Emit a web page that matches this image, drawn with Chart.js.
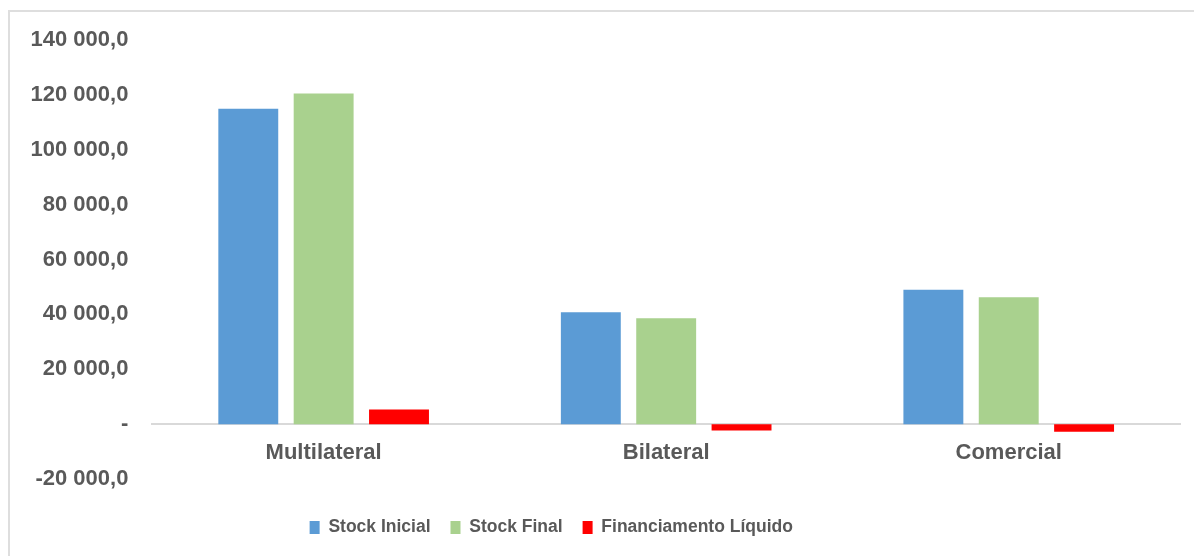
<!DOCTYPE html>
<html>
<head>
<meta charset="utf-8">
<script src="https://cdn.jsdelivr.net/npm/chart.js@4.4.1/dist/chart.umd.min.js"></script>
<style>
  html, body { margin: 0; padding: 0; background: #fff; }
  #wrap { position: relative; width: 1194px; height: 556px; overflow: hidden; }
  #frame { position: absolute; left: 8px; top: 10px; width: 1200px; height: 600px; border: 2px solid #dedede; box-sizing: border-box; }
  canvas { position: absolute; left: 0; top: 0; }
</style>
</head>
<body>
<div id="wrap">
  <div id="frame"></div>
  <canvas id="chart" width="1194" height="556"></canvas>
</div>
<script>
const categories = ['Multilateral', 'Bilateral', 'Comercial'];
const stockInicial = [114900, 40800, 49000];
const stockFinal = [120500, 38600, 46200];
const financiamentoLiquido = [5300, -2300, -2800];
const seriesNames = ['Stock Inicial', 'Stock Final', 'Financiamento Líquido'];
const seriesColors = ['#5B9BD5', '#A9D18E', '#FF0000'];

const FONT = '"Liberation Sans", Arial, sans-serif';
const TEXT = '#595959';

// formato "140 000,0", zero aparece como "-"
function fmt(v) {
  if (v === 0) return '-';
  const s = Math.abs(v).toString().replace(/\B(?=(\d{3})+(?!\d))/g, ' ');
  return (v < 0 ? '-' : '') + s + ',0';
}

// desloca a legenda para a esquerda, como no original
const shiftLegend = {
  id: 'shiftLegend',
  afterLayout(chart) {
    if (chart.legend) {
      chart.legend.left -= 42;
      chart.legend.right -= 42;
    }
  }
};

const ctx = document.getElementById('chart').getContext('2d');
new Chart(ctx, {
  type: 'bar',
  data: {
    labels: categories,
    datasets: [stockInicial, stockFinal, financiamentoLiquido].map((d, i) => ({
      label: seriesNames[i],
      data: d,
      backgroundColor: seriesColors[i],
      borderWidth: 0,
      barPercentage: 0.795,
      categoryPercentage: 0.66
    }))
  },
  options: {
    responsive: false,
    animation: false,
    layout: { padding: { left: 6.5, right: 14, top: 40, bottom: 9.75 } },
    scales: {
      x: {
        position: { y: 0 },
        grid: { display: false, drawTicks: false },
        border: { display: true, color: '#d9d9d9', width: 2 },
        ticks: { color: TEXT, padding: 16, font: { family: FONT, size: 22, weight: 'bold' } }
      },
      y: {
        min: -20000,
        max: 140000,
        grid: { display: false, drawTicks: false },
        border: { display: false },
        ticks: {
          stepSize: 20000,
          padding: 24,
          color: TEXT,
          font: { family: FONT, size: 22, weight: 'bold' },
          callback: v => fmt(v)
        }
      }
    },
    plugins: {
      tooltip: { enabled: false },
      legend: {
        position: 'bottom',
        title: { display: true, text: '', font: { size: 1 }, padding: { top: 18.55, bottom: 0 } },
        labels: {
          boxWidth: 10,
          boxHeight: 13,
          padding: 20,
          color: TEXT,
          font: { family: FONT, size: 17.5, weight: 'bold' }
        }
      }
    }
  },
  plugins: [shiftLegend]
});
</script>
</body>
</html>
